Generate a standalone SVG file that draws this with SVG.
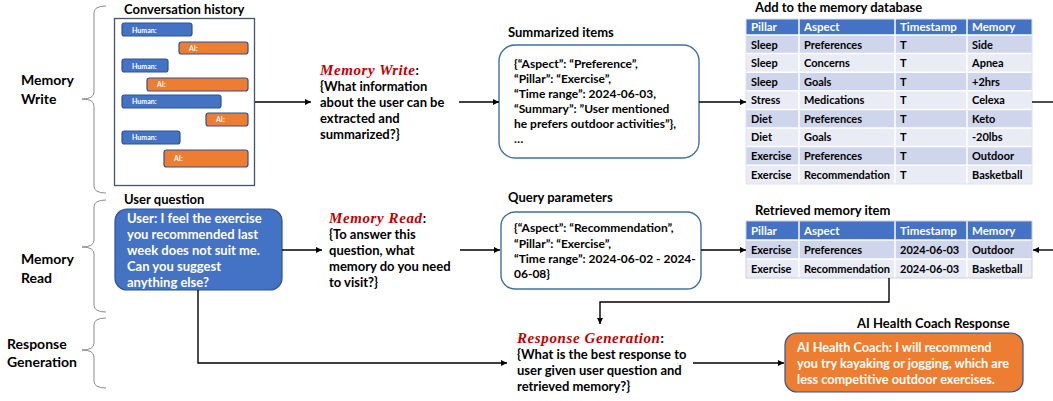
<svg xmlns="http://www.w3.org/2000/svg" width="1053" height="401" viewBox="0 0 1053 401">
<style>
text{font-family:Lato,"Liberation Sans",sans-serif;font-weight:bold;fill:#000}
.lbl{font-size:14px}
.ttl{font-size:13px}
.q{font-size:13px}
.red{font-family:"Liberation Serif","DejaVu Serif",serif;font-style:italic;font-weight:bold;fill:#C00000;font-size:15px;letter-spacing:0.6px}
.json{font-size:12px}
.wt{fill:#fff}
.cw{font-size:12.7px;fill:#fff}
.bub{font-size:7px;fill:#fff}
.cell{font-size:11px}
.hd{font-size:11.5px;fill:#fff}
.brace{fill:none;stroke:#8c8c8c;stroke-width:1}
.conn{fill:none;stroke:#000;stroke-width:1.4}
.hb{fill:#4472C4;stroke:#2F528F;stroke-width:1.2}
.ab{fill:#ED7D31;stroke:#2F528F;stroke-width:1.2}
.rbox{fill:#fff;stroke:#41719C;stroke-width:1.4}
.th{fill:#4472C4}
.r1{fill:#CFD5EA}
.r2{fill:#E9EBF5}
.grid{stroke:#fff;stroke-width:1.5}
</style>
<defs>
<marker id="ah" viewBox="0 0 10 10" refX="10" refY="5" markerWidth="6" markerHeight="6" orient="auto" markerUnits="userSpaceOnUse">
<path d="M0,0 L10,5 L0,10 Z" fill="#000"/>
</marker>
</defs>

<g id="stage-labels">
<text class="lbl" x="21" y="85">Memory</text>
<text class="lbl" x="21" y="104">Write</text>
<text class="lbl" x="21" y="264">Memory</text>
<text class="lbl" x="21" y="283">Read</text>
<text class="lbl" x="7" y="349">Response</text>
<text class="lbl" x="7" y="367">Generation</text>
<path class="brace" d="M106,6 Q94,6 94,13 L94,92 Q94,99 82,99 Q94,99 94,106 L94,186 Q94,193 106,193"/>
<path class="brace" d="M106,200 Q94,200 94,207 L94,240 Q94,247 82,247 Q94,247 94,254 L94,305 Q94,312 106,312"/>
<path class="brace" d="M106,318 Q94,318 94,325 L94,343 Q94,350 82,350 Q94,350 94,357 L94,381 Q94,388 106,388"/>
</g>

<g id="conversation-history">
<text class="ttl" x="124" y="14">Conversation history</text>
<rect x="114.5" y="18.5" width="140" height="167" fill="#fff" stroke="#44546A" stroke-width="1.3"/>
<rect class="hb" x="122" y="23" width="70" height="13" rx="2.5"/>
<text class="bub" x="132" y="32.5">Human:</text>
<rect class="ab" x="179" y="42" width="69" height="12" rx="2.5"/>
<text class="bub" x="189" y="50.5">AI:</text>
<rect class="hb" x="122" y="59" width="46" height="13" rx="2.5"/>
<text class="bub" x="132" y="68.5">Human:</text>
<rect class="ab" x="147" y="78" width="101" height="13" rx="2.5"/>
<text class="bub" x="157" y="87">AI:</text>
<rect class="hb" x="122" y="95" width="99" height="13" rx="2.5"/>
<text class="bub" x="132" y="104">Human:</text>
<rect class="ab" x="206" y="113" width="42" height="13" rx="2.5"/>
<text class="bub" x="216" y="122">AI:</text>
<rect class="hb" x="122" y="131" width="58" height="13" rx="2.5"/>
<text class="bub" x="132" y="140">Human:</text>
<rect class="ab" x="164" y="150" width="84" height="17" rx="2.5"/>
<text class="bub" x="174" y="161">AI:</text>
</g>

<g id="memory-write">
<text class="q" x="320" y="75"><tspan class="red">Memory Write</tspan>:</text>
<text class="q" x="320" y="91">{What information</text>
<text class="q" x="320" y="107">about the user can be</text>
<text class="q" x="320" y="123">extracted and</text>
<text class="q" x="320" y="139">summarized?}</text>
</g>

<g id="summarized-items">
<text class="ttl" x="508" y="37">Summarized items</text>
<rect class="rbox" x="499" y="45" width="200" height="113" rx="16"/>
<text class="json" x="514" y="68">{“Aspect”: “Preference”,</text>
<text class="json" x="514" y="83">“Pillar”: “Exercise”,</text>
<text class="json" x="514" y="98">“Time range”: 2024-06-03,</text>
<text class="json" x="514" y="113">“Summary”: ”User  mentioned</text>
<text class="json" x="514" y="128">he prefers outdoor activities”},</text>
<text class="json" x="514" y="143">…</text>
</g>

<g id="memory-database">
<text class="ttl" x="755" y="12">Add to the memory database</text>
<rect class="th" x="746" y="19" width="286" height="16"/>
<rect class="r1" x="746" y="35" width="286" height="18.6"/>
<rect class="r2" x="746" y="53.6" width="286" height="18.6"/>
<rect class="r1" x="746" y="72.2" width="286" height="18.6"/>
<rect class="r2" x="746" y="90.8" width="286" height="18.6"/>
<rect class="r1" x="746" y="109.4" width="286" height="18.6"/>
<rect class="r2" x="746" y="128" width="286" height="18.6"/>
<rect class="r1" x="746" y="146.6" width="286" height="18.6"/>
<rect class="r2" x="746" y="165.2" width="286" height="18.8"/>
<g class="grid">
<line x1="746" y1="35" x2="1032" y2="35"/>
<line x1="746" y1="53.6" x2="1032" y2="53.6"/>
<line x1="746" y1="72.2" x2="1032" y2="72.2"/>
<line x1="746" y1="90.8" x2="1032" y2="90.8"/>
<line x1="746" y1="109.4" x2="1032" y2="109.4"/>
<line x1="746" y1="128" x2="1032" y2="128"/>
<line x1="746" y1="146.6" x2="1032" y2="146.6"/>
<line x1="746" y1="165.2" x2="1032" y2="165.2"/>
<line x1="799" y1="19" x2="799" y2="184"/>
<line x1="895" y1="19" x2="895" y2="184"/>
<line x1="967" y1="19" x2="967" y2="184"/>
</g>
<rect x="746" y="19" width="286" height="165" fill="none" stroke="#E0E3EF" stroke-width="1"/>
<text class="hd" x="751" y="31">Pillar</text><text class="hd" x="804" y="31">Aspect</text><text class="hd" x="900" y="31">Timestamp</text><text class="hd" x="972" y="31">Memory</text>
<text class="cell" x="751" y="48.5">Sleep</text><text class="cell" x="804" y="48.5">Preferences</text><text class="cell" x="900" y="48.5">T</text><text class="cell" x="972" y="48.5">Side</text>
<text class="cell" x="751" y="67">Sleep</text><text class="cell" x="804" y="67">Concerns</text><text class="cell" x="900" y="67">T</text><text class="cell" x="972" y="67">Apnea</text>
<text class="cell" x="751" y="85.5">Sleep</text><text class="cell" x="804" y="85.5">Goals</text><text class="cell" x="900" y="85.5">T</text><text class="cell" x="972" y="85.5">+2hrs</text>
<text class="cell" x="751" y="104">Stress</text><text class="cell" x="804" y="104">Medications</text><text class="cell" x="900" y="104">T</text><text class="cell" x="972" y="104">Celexa</text>
<text class="cell" x="751" y="122.5">Diet</text><text class="cell" x="804" y="122.5">Preferences</text><text class="cell" x="900" y="122.5">T</text><text class="cell" x="972" y="122.5">Keto</text>
<text class="cell" x="751" y="141">Diet</text><text class="cell" x="804" y="141">Goals</text><text class="cell" x="900" y="141">T</text><text class="cell" x="972" y="141">-20lbs</text>
<text class="cell" x="751" y="160">Exercise</text><text class="cell" x="804" y="160">Preferences</text><text class="cell" x="900" y="160">T</text><text class="cell" x="972" y="160">Outdoor</text>
<text class="cell" x="751" y="178.5">Exercise</text><text class="cell" x="804" y="178.5">Recommendation</text><text class="cell" x="900" y="178.5">T</text><text class="cell" x="972" y="178.5">Basketball</text>
</g>

<g id="user-question">
<text class="ttl" x="124" y="204">User question</text>
<rect class="hb" x="115" y="209" width="167" height="81" rx="12"/>
<text class="q wt" x="127" y="223">User: I feel the exercise</text>
<text class="q wt" x="127" y="239">you recommended last</text>
<text class="q wt" x="127" y="255">week does not suit me.</text>
<text class="q wt" x="127" y="271">Can you suggest</text>
<text class="q wt" x="127" y="287">anything else?</text>
</g>

<g id="memory-read">
<text class="q" x="329" y="223"><tspan class="red">Memory Read</tspan>:</text>
<text class="q" x="329" y="239">{To answer this</text>
<text class="q" x="329" y="255">question, what</text>
<text class="q" x="329" y="271">memory do you need</text>
<text class="q" x="329" y="287">to visit?}</text>
</g>

<g id="query-parameters">
<text class="ttl" x="508" y="202">Query parameters</text>
<rect class="rbox" x="501" y="212" width="200" height="77" rx="14"/>
<text class="json" x="514" y="232">{“Aspect”: “Recommendation”,</text>
<text class="json" x="514" y="248">“Pillar”: “Exercise”,</text>
<text class="json" x="514" y="263">“Time range”: 2024-06-02 - 2024-</text>
<text class="json" x="514" y="278">06-08}</text>
</g>

<g id="retrieved-memory">
<text class="ttl" x="755" y="215">Retrieved memory item</text>
<rect class="th" x="746" y="221" width="286" height="19"/>
<rect class="r1" x="746" y="240" width="286" height="19"/>
<rect class="r2" x="746" y="259" width="286" height="19"/>
<g class="grid">
<line x1="746" y1="240" x2="1032" y2="240"/>
<line x1="746" y1="259" x2="1032" y2="259"/>
<line x1="799" y1="221" x2="799" y2="278"/>
<line x1="895" y1="221" x2="895" y2="278"/>
<line x1="967" y1="221" x2="967" y2="278"/>
</g>
<rect x="746" y="221" width="286" height="57" fill="none" stroke="#C9CEE3" stroke-width="1"/>
<text class="hd" x="751" y="234.5">Pillar</text><text class="hd" x="804" y="234.5">Aspect</text><text class="hd" x="900" y="234.5">Timestamp</text><text class="hd" x="972" y="234.5">Memory</text>
<text class="cell" x="751" y="254">Exercise</text><text class="cell" x="804" y="254">Preferences</text><text class="cell" x="900" y="254">2024-06-03</text><text class="cell" x="972" y="254">Outdoor</text>
<text class="cell" x="751" y="273">Exercise</text><text class="cell" x="804" y="273">Recommendation</text><text class="cell" x="900" y="273">2024-06-03</text><text class="cell" x="972" y="273">Basketball</text>
</g>

<g id="response-generation">
<text class="q" x="517" y="343"><tspan class="red">Response Generation</tspan>:</text>
<text class="q" x="517" y="359">{What is the best response to</text>
<text class="q" x="517" y="375">user given user question and</text>
<text class="q" x="517" y="391">retrieved memory?}</text>
</g>

<g id="coach-response">
<text class="ttl" x="857" y="328">AI Health Coach Response</text>
<rect class="ab" x="785" y="333" width="238" height="59" rx="12"/>
<text class="cw" x="797" y="352">AI Health Coach: I will recommend</text>
<text class="cw" x="797" y="368">you try kayaking or jogging, which are</text>
<text class="cw" x="797" y="384">less competitive outdoor exercises.</text>
</g>

<g id="connectors">
<line class="conn" x1="255" y1="102" x2="311" y2="102" marker-end="url(#ah)"/>
<line class="conn" x1="459" y1="102" x2="499" y2="102" marker-end="url(#ah)"/>
<line class="conn" x1="699" y1="102" x2="746" y2="102" marker-end="url(#ah)"/>
<line class="conn" x1="1032" y1="102" x2="1053" y2="102"/>
<line class="conn" x1="282" y1="250" x2="322" y2="250" marker-end="url(#ah)"/>
<line class="conn" x1="460" y1="250" x2="500" y2="250" marker-end="url(#ah)"/>
<line class="conn" x1="701" y1="250" x2="746" y2="250" marker-end="url(#ah)"/>
<line class="conn" x1="1053" y1="250" x2="1033" y2="250" marker-end="url(#ah)"/>
<polyline class="conn" points="889,278 889,302 600,302 600,324" marker-end="url(#ah)"/>
<polyline class="conn" points="198,290 198,363 507,363" marker-end="url(#ah)"/>
<line class="conn" x1="693" y1="363" x2="784" y2="363" marker-end="url(#ah)"/>
</g>
</svg>
